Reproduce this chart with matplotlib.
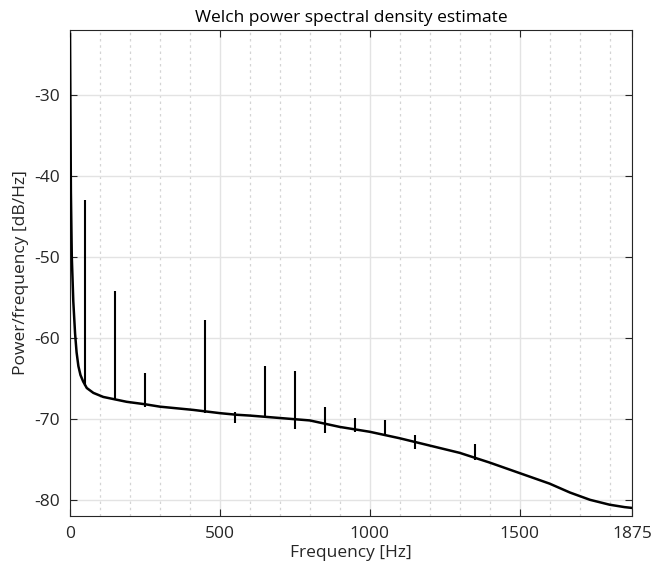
import matplotlib
matplotlib.use('Agg')
import matplotlib.pyplot as plt
from matplotlib.ticker import MultipleLocator

plt.rcParams['font.family'] = ['Open Sans', 'DejaVu Sans']
plt.rcParams['axes.unicode_minus'] = False

# noise floor (Hz, dB/Hz)
freq = [0, 3, 6, 11, 17, 22, 28, 35, 44, 56, 78, 111, 150, 189, 250, 300,
        411, 500, 556, 600, 700, 800, 900, 1000, 1100, 1200, 1300, 1400,
        1500, 1600, 1668, 1735, 1800, 1850, 1875]
psd = [-22.5, -42, -50, -55.5, -59.5, -61.8, -63.5, -64.6, -65.4, -66.2,
       -66.8, -67.3, -67.6, -67.9, -68.2, -68.5, -68.9, -69.3, -69.5, -69.6,
       -69.9, -70.2, -71.0, -71.6, -72.4, -73.3, -74.2, -75.4, -76.7, -78.0,
       -79.1, -80.0, -80.6, -80.9, -81.0]

# line components (harmonics)
spike_f = [50, 150, 250, 450, 550, 650, 750, 850, 950, 1050, 1150, 1350]
spike_top = [-43.0, -54.2, -64.3, -57.8, -69.1, -63.5, -64.1, -68.6, -69.9,
             -70.2, -72.0, -73.1]
spike_bot = [-66.0, -67.6, -68.6, -69.3, -70.5, -69.9, -71.3, -71.7, -71.6,
             -72.0, -73.7, -75.1]

xticks = [0, 500, 1000, 1500, 1875]
yticks = [-80, -70, -60, -50, -40, -30]

gray = '#262626'

fig = plt.figure(figsize=(6.56, 5.70), dpi=100)
ax = fig.add_axes([0.1067, 0.0947, 0.8567, 0.8527])

ax.plot(freq, psd, color='black', lw=1.8, zorder=3)
ax.vlines(spike_f, spike_bot, spike_top, color='black', lw=1.5, zorder=3)

ax.set_xlim(0, 1875)
ax.set_ylim(-82, -22)
ax.set_xticks(xticks)
ax.set_yticks(yticks)
ax.xaxis.set_minor_locator(MultipleLocator(100))

ax.grid(which='major', color='#e3e3e3', lw=1.0, zorder=0)
ax.grid(which='minor', axis='x', color='#d4d4d4', lw=0.9, ls=(0, (2, 3)), zorder=0)
ax.tick_params(which='major', direction='in', length=5, width=0.8,
               top=True, right=True, labelsize=12.5, colors=gray, pad=7)
ax.tick_params(which='minor', length=0)
for s in ax.spines.values():
    s.set_color(gray)
    s.set_linewidth(0.8)

ax.set_title('Welch power spectral density estimate', fontsize=12.5, pad=6)
ax.set_xlabel('Frequency [Hz]', fontsize=12.5, color=gray, labelpad=2)
ax.set_ylabel('Power/frequency [dB/Hz]', fontsize=12.5, color=gray, labelpad=4)

fig.savefig('out.png', dpi=100)
